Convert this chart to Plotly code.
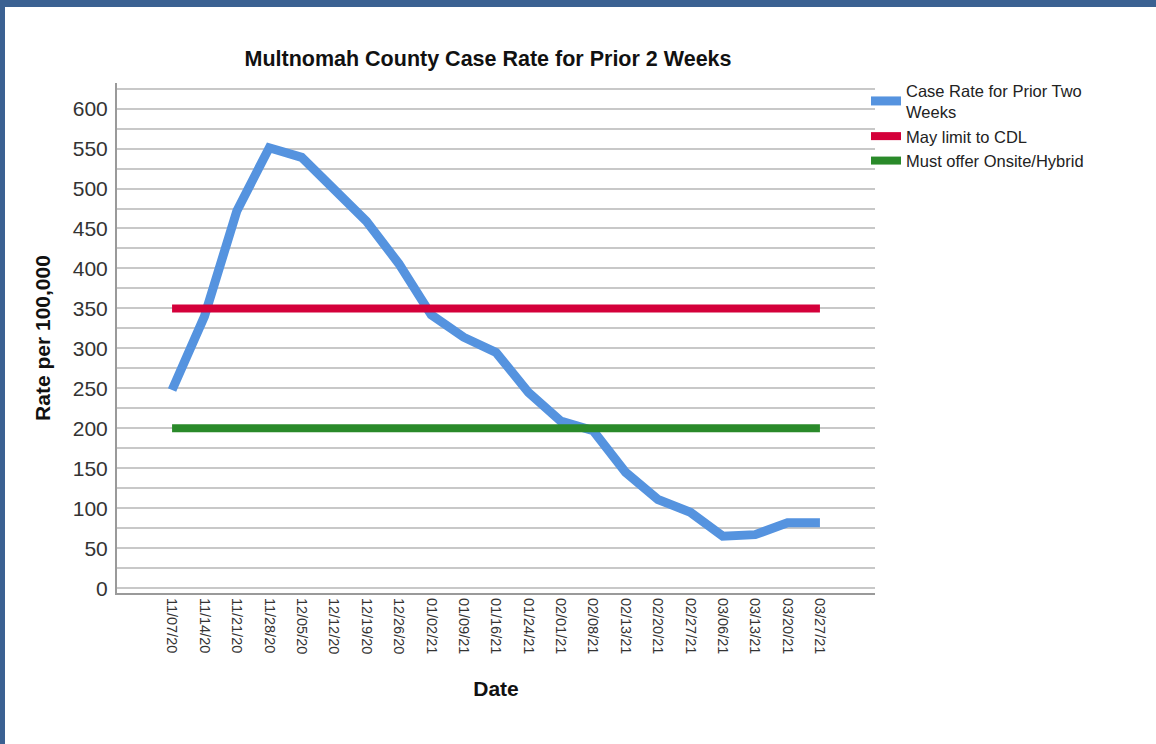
import plotly.graph_objects as go

dates = ["11/07/20", "11/14/20", "11/21/20", "11/28/20", "12/05/20", "12/12/20",
         "12/19/20", "12/26/20", "01/02/21", "01/09/21", "01/16/21", "01/24/21",
         "02/01/21", "02/08/21", "02/13/21", "02/20/21", "02/27/21", "03/06/21",
         "03/13/21", "03/20/21", "03/27/21"]
case_rate = [248, 340, 472, 551, 539, 499, 459, 406, 342, 314, 295, 245,
             209, 197, 145, 111, 95, 65, 67, 82, 82]
cdl_limit = [350] * len(dates)
onsite_required = [200] * len(dates)

BLUE = "#5593DF"
RED = "#D4003A"
GREEN = "#2A8A2A"
FRAME = "#3B6192"

fig = go.Figure()
fig.add_trace(go.Scatter(x=dates, y=case_rate, mode="lines",
                         name="Case Rate for Prior Two<br>Weeks",
                         line=dict(color=BLUE, width=9)))
fig.add_trace(go.Scatter(x=dates, y=cdl_limit, mode="lines",
                         name="May limit to CDL",
                         line=dict(color=RED, width=8)))
fig.add_trace(go.Scatter(x=dates, y=onsite_required, mode="lines",
                         name="Must offer Onsite/Hybrid",
                         line=dict(color=GREEN, width=8)))

W, H = 1156, 744
L, R, T, B = 117, 875, 83, 593
pw, ph = R - L, B - T


def px_x(px):
    return (px - L) / pw


def px_y(py):
    return (B - py) / ph


# page frame (blue border top and left)
fig.add_shape(type="rect", xref="paper", yref="paper",
              x0=px_x(-5), x1=px_x(W + 5), y0=px_y(7), y1=px_y(-5),
              fillcolor=FRAME, line=dict(width=0), layer="above")
fig.add_shape(type="rect", xref="paper", yref="paper",
              x0=px_x(-5), x1=px_x(5), y0=px_y(H + 5), y1=px_y(-5),
              fillcolor=FRAME, line=dict(width=0), layer="above")

FONT = "Liberation Sans, Arial, sans-serif"

fig.update_layout(
    width=W, height=H,
    margin=dict(l=L, r=W - R, t=T, b=H - B, pad=0),
    paper_bgcolor="white", plot_bgcolor="white",
    font=dict(family=FONT, color="#222"),
    title=dict(text="<b>Multnomah County Case Rate for Prior 2 Weeks</b>",
               x=px_x(488), xref="paper", xanchor="center",
               y=1 - 58 / H, yanchor="middle",
               font=dict(size=21.5, color="#111")),
    showlegend=True,
    legend=dict(x=px_x(866), y=px_y(73), xanchor="left", yanchor="top",
                font=dict(size=16.5, color="#222"), bgcolor="rgba(0,0,0,0)",
                tracegroupgap=0, itemwidth=30),
    xaxis=dict(type="category", range=[-1.7, 21.7],
               tickangle=90, tickfont=dict(size=14.5, color="#333"),
               showgrid=False, showline=True, linecolor="#9a9a9a", linewidth=2,
               ticks="", zeroline=False,
               title=dict(text="<b>Date</b>", font=dict(size=21, color="#111"),
                          standoff=28)),
    yaxis=dict(range=[-6, 632], tickvals=list(range(0, 601, 50)),
               tickfont=dict(size=21, color="#333"),
               showgrid=True, gridcolor="#c8c8c8", gridwidth=1.6,
               minor=dict(dtick=25, tick0=0, showgrid=True, gridcolor="#c8c8c8", gridwidth=1.6),
               showline=True, linecolor="#9a9a9a", linewidth=2,
               ticks="", zeroline=False, ticklabelstandoff=3,
               title=dict(text="<b>Rate per 100,000</b>", font=dict(size=21, color="#111"),
                          standoff=16)),
)

fig.write_html("out.html",
               config={"displayModeBar": False},
               post_script="document.body.style.margin='0';document.body.style.padding='0';"
                           "document.documentElement.style.overflow='hidden';")
